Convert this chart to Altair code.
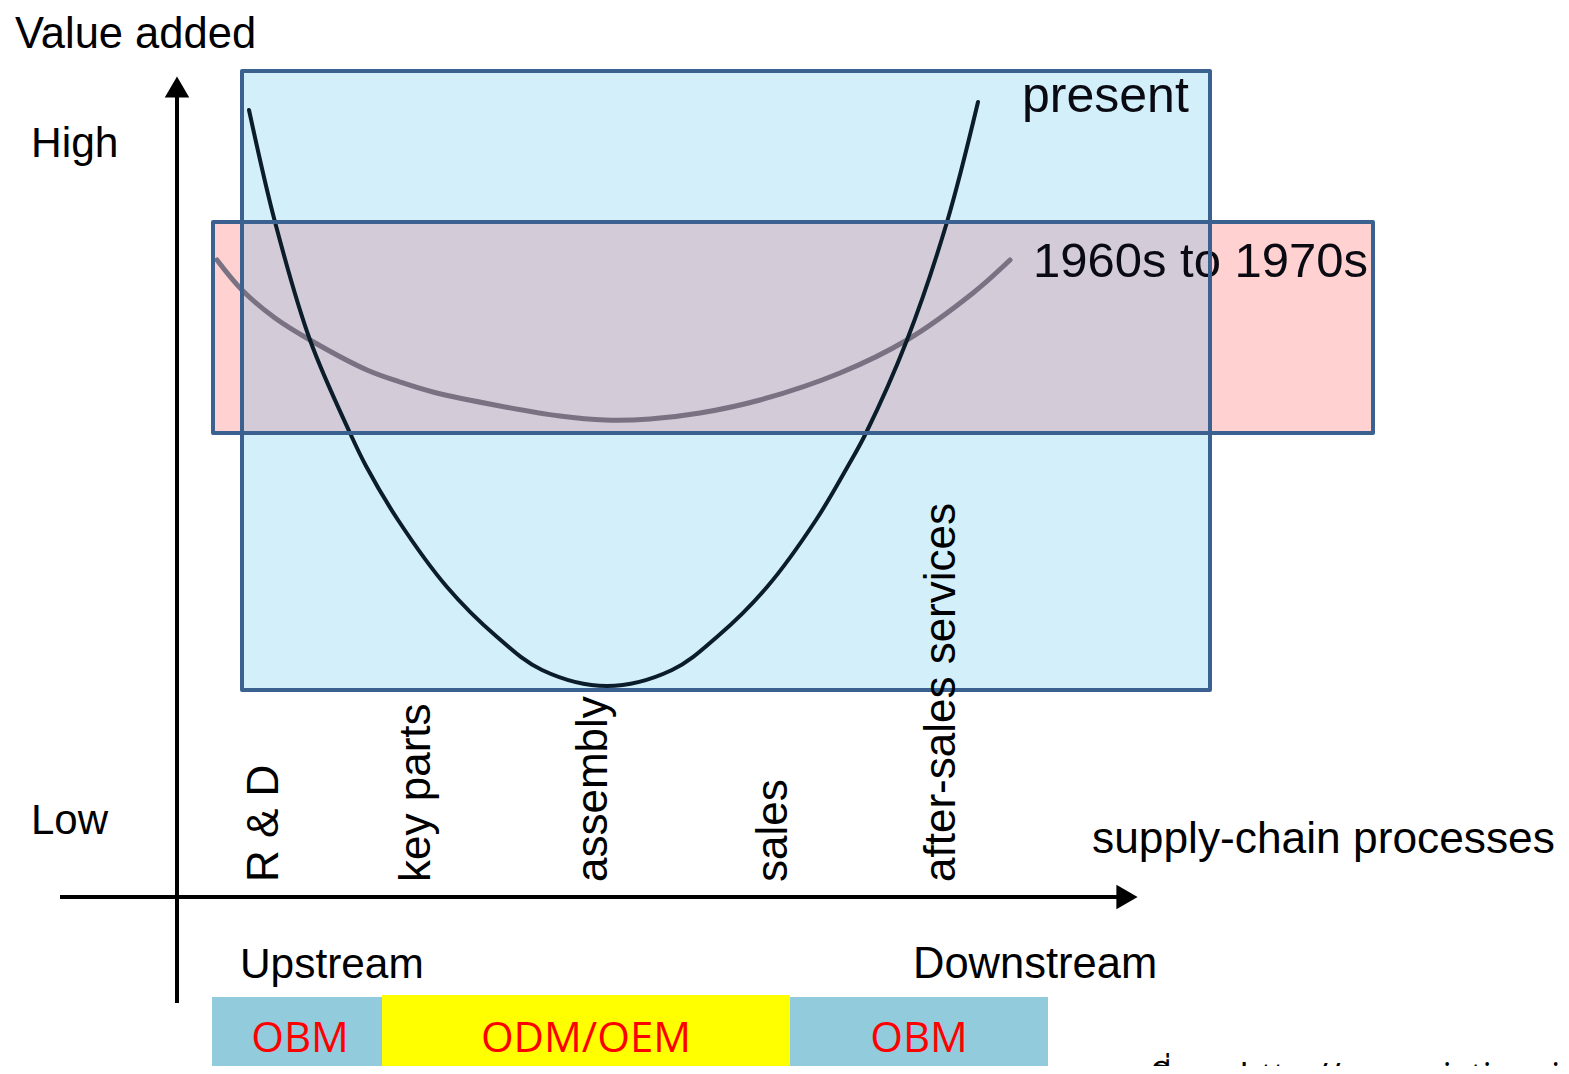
import altair as alt
import pandas as pd

# ---------------- data ----------------
# Diagram units: x = position along the supply chain, y = value-added level (small = high)
present_x = [249, 275, 310, 350, 366, 398, 447, 496, 542, 607, 672, 718, 767, 816, 848, 866, 907, 947, 978]
present_y = [110, 222, 340, 433, 466, 520, 587, 636, 670, 686, 670, 636, 587, 520, 466, 433, 340, 222, 102]

past_x = [217, 242, 275, 310, 367, 400, 433, 500, 560, 605, 650, 700, 760, 840, 907, 973, 1010]
past_y = [260, 290, 318, 340, 370, 382, 392, 406, 416, 420, 419, 413, 400, 373, 340, 293, 260]

stages = ["R & D", "key parts", "assembly", "sales", "after-sales services"]
stage_pos = [278, 430, 607, 787, 955]

era_labels = ["present", "1960s to 1970s"]
era_x0 = [242, 213]
era_x1 = [1210, 1373]
era_y0 = [71, 222]
era_y1 = [690, 433]

segments = ["OBM", "ODM/OEM", "OBM"]
seg_x0 = [212, 382, 790]
seg_x1 = [382, 790, 1048]
seg_top = [997, 995, 997]
seg_center = [300, 586, 919]
seg_colors = ["#92cbdc", "#ffff00", "#92cbdc"]

# ---------------- scales (diagram space) ----------------
W, H = 1553, 1058
xs = alt.Scale(domain=[8, 8 + W], nice=False, zero=False)
ys = alt.Scale(domain=[8 + H, 8], nice=False, zero=False)


def X(f="x"):
    return alt.X(f"{f}:Q", scale=xs, axis=None)


def Y(f="y"):
    return alt.Y(f"{f}:Q", scale=ys, axis=None)


FONT = "Liberation Sans"
BORDER = "#3b6190"

# era boxes
era_df = pd.DataFrame({"label": era_labels, "x": era_x0, "x2": era_x1, "y": era_y0, "y2": era_y1})
overlap_df = pd.DataFrame({
    "x": [max(era_x0)], "x2": [min(era_x1)], "y": [max(era_y0)], "y2": [min(era_y1)]})

blue_fill = alt.Chart(era_df.iloc[[0]]).mark_rect(color="#d3effa").encode(
    x=X(), x2="x2:Q", y=Y(), y2="y2:Q")
pink_fill = alt.Chart(era_df.iloc[[1]]).mark_rect(color="#ffd1d1").encode(
    x=X(), x2="x2:Q", y=Y(), y2="y2:Q")
overlap_fill = alt.Chart(overlap_df).mark_rect(color="#d3cbd8").encode(
    x=X(), x2="x2:Q", y=Y(), y2="y2:Q")
outlines = alt.Chart(era_df).mark_rect(
    fillOpacity=0, stroke=BORDER, strokeWidth=4, strokeJoin="round").encode(
    x=X(), x2="x2:Q", y=Y(), y2="y2:Q")

# curves
present_df = pd.DataFrame({"x": present_x, "y": present_y})
past_df = pd.DataFrame({"x": past_x, "y": past_y})

past_line = alt.Chart(past_df).mark_line(
    color="#7a7282", strokeWidth=5, interpolate="catmull-rom", strokeCap="round").encode(
    x=X(), y=Y(), order="x:Q")
present_line = alt.Chart(present_df).mark_line(
    color="#0b1c2a", strokeWidth=4, interpolate="catmull-rom", strokeCap="round").encode(
    x=X(), y=Y(), order="x:Q")

# era labels
era_text_df = pd.DataFrame({"t": era_labels, "x": [1022, 1033], "y": [112, 277], "fs": [50, 49]})
era_text = alt.Chart(era_text_df).mark_text(
    align="left", baseline="alphabetic", font=FONT, color="#0a0a12").encode(
    x=X(), y=Y(), text="t:N", size=alt.Size("fs:Q", scale=None, legend=None))

# axis lines
axis_df = pd.DataFrame({"x": [177, 60], "x2": [177, 1120], "y": [96, 897], "y2": [1003, 897]})
axis_lines = alt.Chart(axis_df).mark_rule(color="black", strokeWidth=4).encode(
    x=X(), x2="x2:Q", y=Y(), y2="y2:Q")
arrow_up = alt.Chart(pd.DataFrame({"x": [177], "y": [87]})).mark_point(
    shape="triangle-up", filled=True, size=600, color="black", opacity=1, strokeWidth=0).encode(
    x=X(), y=Y())
arrow_right = alt.Chart(pd.DataFrame({"x": [1127], "y": [897]})).mark_point(
    shape="triangle-right", filled=True, size=600, color="black", opacity=1, strokeWidth=0).encode(
    x=X(), y=Y())

# axis texts
axis_text_df = pd.DataFrame({
    "t": ["Value added", "High", "Low", "supply-chain processes", "Upstream", "Downstream"],
    "x": [15, 31, 31, 1092, 240, 913],
    "y": [48, 157, 834, 853, 978, 978],
    "fs": [43.5, 42.5, 42, 44.3, 42.4, 43.5],
})
axis_text = alt.Chart(axis_text_df).mark_text(
    align="left", baseline="alphabetic", font=FONT, color="black").encode(
    x=X(), y=Y(), text="t:N", size=alt.Size("fs:Q", scale=None, legend=None))

# stage labels (rotated)
stage_df = pd.DataFrame({"t": stages, "x": stage_pos, "y": [882] * len(stages)})
stage_text = alt.Chart(stage_df).mark_text(
    align="left", baseline="alphabetic", angle=270, font=FONT, fontSize=44, color="black").encode(
    x=X(), y=Y(), text="t:N")

# bottom segment bars
seg_df = pd.DataFrame({"t": segments, "x": seg_x0, "x2": seg_x1, "y": seg_top,
                       "y2": [8 + H] * 3, "c": seg_colors, "cx": seg_center, "ty": [1052] * 3,
                       "i": list(range(3))})
seg_bars = alt.Chart(seg_df).mark_rect().encode(
    x=X(), x2="x2:Q", y=Y(), y2="y2:Q", color=alt.Color("c:N", scale=None, legend=None),
    detail="i:N")
seg_text = alt.Chart(seg_df).mark_text(
    align="center", baseline="alphabetic", font="Open Sans", fontSize=42, color="#ff0000").encode(
    x=X("cx"), y=Y("ty"), text="t:N", detail="i:N")

# source note (cut off at the bottom edge, as in the original)
src = alt.Chart(pd.DataFrame({"t": ["ที่มา : http://www.rieti.go.jp/"], "x": [1150], "y": [1088]})).mark_text(
    align="left", baseline="alphabetic", font="Noto Sans", fontSize=34, color="black").encode(
    x=X(), y=Y(), text="t:N")

chart = alt.layer(
    blue_fill, pink_fill, overlap_fill, past_line, present_line, era_text, outlines,
    axis_lines, arrow_up, arrow_right, axis_text, stage_text,
    seg_bars, seg_text, src,
).properties(
    width=W, height=H, padding=0,
    autosize=alt.AutoSizeParams(type="none"),
).configure_view(stroke=None)

chart.save("out.html", embed_options={"renderer": "svg", "actions": False})
